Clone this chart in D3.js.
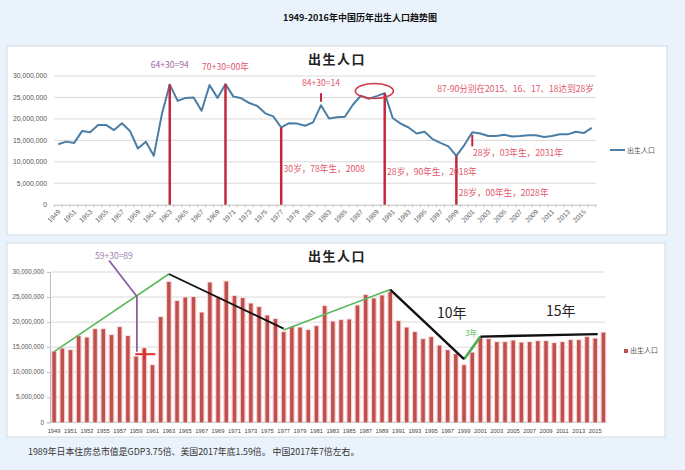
<!DOCTYPE html>
<html><head><meta charset="utf-8">
<script src="https://cdn.jsdelivr.net/npm/d3@7"></script>
<style>
html,body{margin:0;padding:0;background:#eaf2fb;}
svg{display:block;}
</style></head>
<body>
<svg id="c" width="685" height="470"></svg>
<script>
// ---------- data ----------
const years = [1949,1950,1951,1952,1953,1954,1955,1956,1957,1958,1959,1960,1961,1962,1963,1964,1965,1966,1967,1968,1969,1970,1971,1972,1973,1974,1975,1976,1977,1978,1979,1980,1981,1982,1983,1984,1985,1986,1987,1988,1989,1990,1991,1992,1993,1994,1995,1996,1997,1998,1999,2000,2001,2002,2003,2004,2005,2006,2007,2008,2009,2010,2011,2012,2013,2014,2015,2016];
const births = [14100000,14700000,14400000,17200000,16900000,18600000,18600000,17400000,19000000,17200000,13100000,14700000,11400000,21000000,28000000,24200000,24900000,25000000,21900000,27900000,24900000,28100000,25200000,24800000,23700000,23000000,21300000,20600000,18000000,19000000,18900000,18400000,19200000,23200000,20100000,20400000,20500000,23300000,25400000,24700000,25300000,26000000,20200000,18900000,18000000,16600000,17000000,15300000,14400000,13600000,11400000,13900000,16900000,16600000,16000000,16000000,16300000,15900000,16000000,16200000,16200000,15800000,16000000,16400000,16400000,17000000,16700000,17900000];
const yTicks = [0,5000000,10000000,15000000,20000000,25000000,30000000];
const labelYears = [1949,1951,1953,1955,1957,1959,1961,1963,1965,1967,1969,1971,1973,1975,1977,1979,1981,1983,1985,1987,1989,1991,1993,1995,1997,1999,2001,2003,2005,2007,2009,2011,2013,2015];
const seriesName = "出生人口";
const mainTitle = "1949-2016年中国历年出生人口趋势图";
const caption = "1989年日本住房总市值是GDP3.75倍、美国2017年底1.59倍。 中国2017年7倍左右。";

// top chart annotations
const redDropYears = [1963,1970,1977,1990,1999];
const shortTicks = [[1982,26000000,24000000],[2001,16300000,13600000]];
const topNotes = [
  {text:"64+30=94", year:1963, v:31900000, anchor:"middle", color:"#a0679e"},
  {text:"70+30=00年", year:1970, v:31400000, anchor:"middle", color:"#e0566a"},
  {text:"84+30=14", year:1982, v:27600000, anchor:"middle", color:"#e0566a"},
  {text:"87-90分别在2015、16、17、18达到28岁", year:1996.6, v:26300000, anchor:"start", color:"#e0566a"},
  {text:"30岁，78年生，2008", year:1977.3, v:7600000, anchor:"start", color:"#e0566a"},
  {text:"28岁，90年生，2018年", year:1990.3, v:7000000, anchor:"start", color:"#e0566a"},
  {text:"28岁，00年生，2028年", year:1999.3, v:2000000, anchor:"start", color:"#e0566a"},
  {text:"28岁，03年生，2031年", year:2001.1, v:11300000, anchor:"start", color:"#e0566a"}
];
// bottom chart annotations
const greenLines = [[[1949,14100000],[1963,29600000]],[[1977,18400000],[1990,26500000]]];
const greenThick = [[1999,12600000],[2001,17100000]];
const blackLines = [[[1963,29600000],[1977,18700000]],[[1990,26500000],[1999,12600000]],[[2001,17100000],[2015.3,17600000]]];
const purplePath = [[1955.7,32300000],[1959.1,25100000],[1959.1,14100000]];
const crossH = [[1958.9,13600000],[1961.35,13600000]];
const crossV = [[1960.0,14800000],[1960.0,12400000]];
const botNotes = [
  {text:"59+30=89", year:1956.3, v:32600000, size:8.5, color:"#9b82b0"},
  {text:"10年", year:1997.5, v:20800000, size:14, color:"#222"},
  {text:"15年", year:2010.8, v:21300000, size:14, color:"#222"},
  {text:"3年", year:1999.9, v:17200000, size:8, color:"#5cb85c"}
];

// ---------- drawing ----------
const svg = d3.select("#c");
const fmt = d3.format(",");
const cjk = "'Noto Sans CJK SC','Noto Sans',sans-serif";
const lat = "'Liberation Sans',Arial,sans-serif";

svg.append("text").attr("x",360).attr("y",21).attr("text-anchor","middle")
  .attr("font-family",cjk).attr("font-size",9).attr("font-weight","bold").attr("fill","#111").text(mainTitle);

// panels
svg.append("rect").attr("x",7).attr("y",46).attr("width",660).attr("height",189).attr("fill","#fff").attr("stroke","#d3dbe5");
svg.append("rect").attr("x",7).attr("y",243).attr("width",658).attr("height",194).attr("fill","#fff").attr("stroke","#d3dbe5");

// ===== top line chart =====
const xT = d3.scaleBand().domain(years).range([54.3,595.7]);
const cxT = d => xT(d) + xT.bandwidth()/2;
const xTc = v => xT(years[0]) + (v - years[0] + 0.5) * xT.step();
const yT = d3.scaleLinear().domain([0,30000000]).range([204.7,76]);
const gT = svg.append("g");
gT.append("g").selectAll("line").data(yTicks.slice(1)).join("line")
  .attr("x1",54.3).attr("x2",595.7).attr("y1",d=>yT(d)).attr("y2",d=>yT(d))
  .attr("stroke","#d9d9d9").attr("stroke-width",1);
gT.append("g").selectAll("text").data(yTicks).join("text")
  .attr("x",47).attr("y",d=>yT(d)+2.3).attr("text-anchor","end")
  .attr("font-family",lat).attr("font-size",6.8).attr("fill","#555").text(d=>fmt(d));
// x axis
const axg = gT.append("g").attr("transform",`translate(0,${yT(0)})`).call(d3.axisBottom(xT).tickSize(0).tickFormat(""));
axg.select(".domain").attr("stroke","#bfbfbf");
gT.append("g").selectAll("line").data(years.concat([2017])).join("line")
  .attr("x1",(d,i)=>54.3+i*xT.step()).attr("x2",(d,i)=>54.3+i*xT.step())
  .attr("y1",yT(0)).attr("y2",yT(0)+2.5).attr("stroke","#bfbfbf");
gT.append("g").selectAll("text").data(labelYears).join("text")
  .attr("transform",d=>`translate(${cxT(d)+1},${yT(0)+6}) rotate(-45)`)
  .attr("text-anchor","end").attr("dy","0.35em")
  .attr("font-family",lat).attr("font-size",6.8).attr("fill","#666").text(d=>d);
// title
gT.append("text").attr("x",337).attr("y",64).attr("text-anchor","middle")
  .attr("font-family",cjk).attr("font-size",13).attr("font-weight","bold").attr("letter-spacing",1.5).attr("fill","#222").text(seriesName);
// line
const line = d3.line().x((d,i)=>cxT(years[i])).y(d=>yT(d));
gT.append("path").datum(births).attr("d",line).attr("fill","none")
  .attr("stroke","#4a7ea6").attr("stroke-width",2).attr("stroke-linejoin","round");
// red drop lines
const byYear = new Map(years.map((y,i)=>[y,births[i]]));
gT.append("g").selectAll("line").data(redDropYears).join("line")
  .attr("x1",d=>cxT(d)).attr("x2",d=>cxT(d)).attr("y1",d=>yT(byYear.get(d))).attr("y2",yT(0))
  .attr("stroke","#c3283d").attr("stroke-width",2.5);
gT.append("g").selectAll("line").data(shortTicks).join("line")
  .attr("x1",d=>cxT(d[0])).attr("x2",d=>cxT(d[0])).attr("y1",d=>yT(d[1])).attr("y2",d=>yT(d[2]))
  .attr("stroke","#c3283d").attr("stroke-width",2);
// ellipse
gT.append("ellipse").attr("cx",xTc(1988.7)).attr("cy",yT(26500000)).attr("rx",19).attr("ry",7.5)
  .attr("fill","none").attr("stroke","#d23a4e").attr("stroke-width",1.6);
gT.append("g").selectAll("text").data(topNotes).join("text")
  .attr("x",d=>xTc(d.year)).attr("y",d=>yT(d.v)).attr("text-anchor",d=>d.anchor)
  .attr("font-family",cjk).attr("font-size",8.6).attr("fill",d=>d.color).text(d=>d.text);
// legend
gT.append("line").attr("x1",610).attr("x2",625).attr("y1",150).attr("y2",150).attr("stroke","#4a7ea6").attr("stroke-width",2);
gT.append("text").attr("x",627).attr("y",152.5).attr("font-family",cjk).attr("font-size",7).attr("fill","#555").text(seriesName);

// ===== bottom bar chart =====
const xB = d3.scaleBand().domain(years).range([50,607.5]).paddingInner(0.57).paddingOuter(0.285);
const xBc = v => xB.step()*(v-years[0]) + xB(years[0]) + xB.bandwidth()/2;
const yB = d3.scaleLinear().domain([0,30000000]).range([422.3,272]);
const gB = svg.append("g");
gB.append("g").selectAll("line").data(yTicks.slice(1)).join("line")
  .attr("x1",50).attr("x2",605).attr("y1",d=>yB(d)).attr("y2",d=>yB(d))
  .attr("stroke","#d9d9d9");
const ay = gB.append("g").attr("transform","translate(50,0)").call(d3.axisLeft(yB).tickValues(yTicks).tickSize(3).tickFormat(""));
ay.selectAll("path,line").attr("stroke","#bfbfbf");
gB.append("g").selectAll("text").data(yTicks).join("text")
  .attr("x",44).attr("y",d=>yB(d)+2.2).attr("text-anchor","end")
  .attr("font-family",lat).attr("font-size",6.3).attr("fill","#555").text(d=>fmt(d));
gB.append("line").attr("x1",50).attr("x2",607).attr("y1",yB(0)).attr("y2",yB(0)).attr("stroke","#bfbfbf");
gB.append("text").attr("x",337).attr("y",261).attr("text-anchor","middle")
  .attr("font-family",cjk).attr("font-size",13).attr("font-weight","bold").attr("letter-spacing",1.5).attr("fill","#222").text(seriesName);
// bars with halo
gB.append("g").selectAll("rect").data(births).join("rect")
  .attr("x",(d,i)=>xB(years[i])-1.2).attr("width",xB.bandwidth()+2.4)
  .attr("y",d=>yB(d)-0.8).attr("height",d=>yB(0)-yB(d)+0.8).attr("fill","#f6d3d3");
gB.append("g").selectAll("rect").data(births).join("rect")
  .attr("x",(d,i)=>xB(years[i])).attr("width",xB.bandwidth())
  .attr("y",d=>yB(d)).attr("height",d=>yB(0)-yB(d)).attr("fill","#c0504d");
gB.append("g").selectAll("text").data(labelYears).join("text")
  .attr("x",d=>xB(d)+xB.bandwidth()/2).attr("y",433).attr("text-anchor","middle")
  .attr("font-family",lat).attr("font-size",5.8).attr("fill","#444").text(d=>d);
// trend lines
const lB = d3.line().x(d=>xBc(d[0])).y(d=>yB(d[1]));
gB.append("g").selectAll("path").data(greenLines).join("path").attr("d",lB)
  .attr("fill","none").attr("stroke","#5cb85c").attr("stroke-width",1.6);
gB.append("path").datum(greenThick).attr("d",lB).attr("fill","none").attr("stroke","#4cae4c").attr("stroke-width",2.6);
gB.append("g").selectAll("path").data(blackLines).join("path").attr("d",lB)
  .attr("fill","none").attr("stroke","#111").attr("stroke-width",(d,i)=>i===0?1.8:2.4);
gB.append("path").datum(purplePath).attr("d",lB).attr("fill","none").attr("stroke","#8e5ea2").attr("stroke-width",1.8);
// red cross
gB.append("path").datum(crossH).attr("d",lB).attr("stroke","#e0302d").attr("stroke-width",2);
gB.append("path").datum(crossV).attr("d",lB).attr("stroke","#e0302d").attr("stroke-width",2);
gB.append("g").selectAll("text").data(botNotes).join("text")
  .attr("x",d=>xBc(d.year)).attr("y",d=>yB(d.v)).attr("text-anchor","middle")
  .attr("font-family",cjk).attr("font-size",d=>d.size).attr("fill",d=>d.color).text(d=>d.text);
// legend
gB.append("rect").attr("x",624).attr("y",349).attr("width",4).attr("height",4).attr("fill","#c0504d");
gB.append("text").attr("x",630).attr("y",353.3).attr("font-family",cjk).attr("font-size",7).attr("fill","#555").text(seriesName);

// caption
svg.append("text").attr("x",28).attr("y",455).attr("font-family",cjk).attr("font-size",8.9).attr("fill","#333").text(caption);
</script>
</body></html>
